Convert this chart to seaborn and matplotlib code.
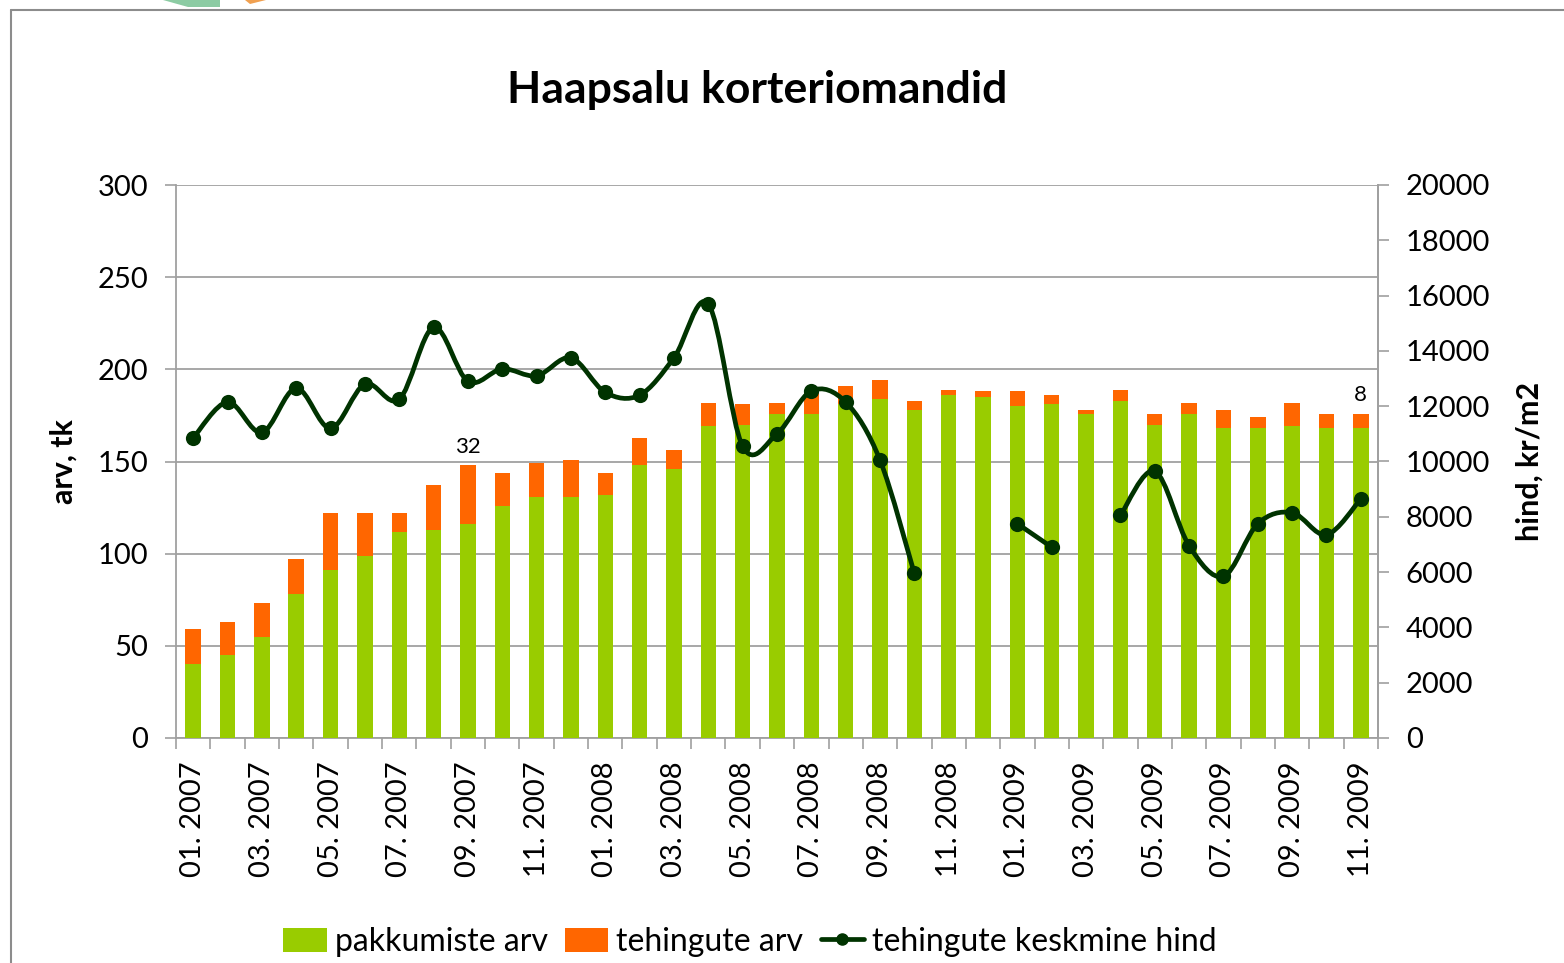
import numpy as np
import pandas as pd
import matplotlib
matplotlib.use("Agg")
import matplotlib.pyplot as plt
import seaborn as sns
from matplotlib.path import Path
from matplotlib.patches import PathPatch, Patch, Polygon
from matplotlib.lines import Line2D

# andmed (loetud graafikult)
months = [
    "01. 2007", "02. 2007", "03. 2007", "04. 2007", "05. 2007", "06. 2007",
    "07. 2007", "08. 2007", "09. 2007", "10. 2007", "11. 2007", "12. 2007",
    "01. 2008", "02. 2008", "03. 2008", "04. 2008", "05. 2008", "06. 2008",
    "07. 2008", "08. 2008", "09. 2008", "10. 2008", "11. 2008", "12. 2008",
    "01. 2009", "02. 2009", "03. 2009", "04. 2009", "05. 2009", "06. 2009",
    "07. 2009", "08. 2009", "09. 2009", "10. 2009", "11. 2009",
]
pakkumised = [40, 45, 55, 78, 91, 99, 112, 113, 116, 126, 131, 131,
              132, 148, 146, 169, 170, 176, 176, 181, 184, 178, 186, 185,
              180, 181, 176, 183, 170, 176, 168, 168, 169, 168, 168]
tehingud = [19, 18, 18, 19, 31, 23, 10, 24, 32, 18, 18, 20,
            12, 15, 10, 13, 11, 6, 11, 10, 10, 5, 3, 3,
            8, 5, 2, 6, 6, 6, 10, 6, 13, 8, 8]
hind = [10850, 12150, 11050, 12650, 11200, 12800, 12250, 14850, 12900, 13350, 13100, 13750,
        12500, 12400, 13750, 15700, 10550, 11000, 12550, 12150, 10050, 5950, np.nan, np.nan,
        7750, 6900, np.nan, 8050, 9650, 6950, 5850, 7750, 8150, 7350, 8650]
labelled = {"09. 2007": 32, "11. 2009": 8}

GREEN = "#99CC00"
ORANGE = "#FF6600"
LINE = "#003300"
GRAY = "#A0A0A0"

sns.set_theme(style="white")
plt.rcParams["font.family"] = ["Lato", "DejaVu Sans"]
plt.rcParams["text.color"] = "black"
plt.rcParams["axes.labelcolor"] = "black"

df = pd.DataFrame({"kuu": months, "pakkumised": pakkumised, "tehingud": tehingud, "hind": hind})
df["kokku"] = df["pakkumised"] + df["tehingud"]

fig = plt.figure(figsize=(15.64, 9.63), dpi=100)
W, H = 1564, 963
ax = fig.add_axes([176 / W, 1 - 738 / H, (1378 - 176) / W, (738 - 185) / H])

# virnastatud tulbad
sns.barplot(data=df, x="kuu", y="kokku", color=ORANGE, saturation=1, width=0.45,
            linewidth=0, ax=ax, zorder=2)
sns.barplot(data=df, x="kuu", y="pakkumised", color=GREEN, saturation=1, width=0.45,
            linewidth=0, ax=ax, zorder=3)

n = len(months)
ax.set_xlim(-0.5, n - 0.5)
ax.set_ylim(0, 300)
ax.set_yticks(np.arange(0, 301, 50))
ax.yaxis.grid(True, color=GRAY, lw=1.3)
ax.set_axisbelow(True)

ax.set_xticks(np.arange(0, n, 2))
ax.set_xticklabels(months[::2], rotation=90)
ax.set_xticks(np.arange(-0.5, n, 1), minor=True)
ax.tick_params(axis="x", which="major", length=0, pad=17, labelsize=21, labelcolor="black")
ax.tick_params(axis="x", which="minor", length=8, width=1.2, color=GRAY, direction="out", bottom=True)
ax.tick_params(axis="y", length=8, width=1.2, color=GRAY, direction="out", left=True, pad=12,
               labelsize=21, labelcolor="black")
ax.set_xlabel("")
ax.set_ylabel("arv, tk", fontsize=22, fontweight="bold", va="center")
ax.yaxis.set_label_coords((64 - 176) / 1202, 0.5)

ax.spines["top"].set_visible(False)
for s in ["left", "bottom", "right"]:
    ax.spines[s].set_color(GRAY)
    ax.spines[s].set_linewidth(1.3)

# andmesildid
for i, k in enumerate(months):
    if k in labelled:
        ax.annotate(str(labelled[k]), (i, df["kokku"][i]), xytext=(0, 6),
                    textcoords="offset points", ha="center", va="bottom", fontsize=16)

# hinna joon parempoolsel teljel
ax2 = ax.twinx()
ax2.set_ylim(0, 20000)
ax2.set_yticks(np.arange(0, 20001, 2000))
ax2.tick_params(axis="y", length=8, width=1.2, color=GRAY, direction="out", right=True, pad=12,
                labelsize=21, labelcolor="black")
for s in ["left", "top", "bottom"]:
    ax2.spines[s].set_visible(False)
ax2.spines["right"].set_color(GRAY)
ax2.spines["right"].set_linewidth(1.3)
ax2.grid(False)

# silutud joon (Exceli stiilis Bezier), katkeb puuduvate väärtuste kohal
x = np.arange(n, dtype=float)
y = df["hind"].to_numpy()
ok = ~np.isnan(y)
segments = []
cur = []
for i in range(n):
    if ok[i]:
        cur.append(i)
    elif cur:
        segments.append(cur)
        cur = []
if cur:
    segments.append(cur)

for seg in segments:
    if len(seg) < 2:
        continue
    px = x[seg]
    py = y[seg]
    verts = [(px[0], py[0])]
    codes = [Path.MOVETO]
    m = len(seg)
    for j in range(m - 1):
        p0 = np.array([px[max(j - 1, 0)], py[max(j - 1, 0)]])
        p1 = np.array([px[j], py[j]])
        p2 = np.array([px[j + 1], py[j + 1]])
        p3 = np.array([px[min(j + 2, m - 1)], py[min(j + 2, m - 1)]])
        c1 = p1 + (p2 - p0) / 6
        c2 = p2 - (p3 - p1) / 6
        verts += [tuple(c1), tuple(c2), tuple(p2)]
        codes += [Path.CURVE4] * 3
    ax2.add_patch(PathPatch(Path(verts, codes), fill=False, edgecolor=LINE, lw=3.4,
                            capstyle="round", joinstyle="round", zorder=4))

sns.scatterplot(data=df.dropna(subset=["hind"]).reset_index(), x="index", y="hind", ax=ax2,
                color=LINE, s=120, edgecolor=LINE, linewidth=0, zorder=5, legend=False)
ax2.set_xlabel("")
ax2.set_ylabel("hind, kr/m2", fontsize=22, fontweight="bold", va="center")
ax2.yaxis.set_label_coords((1530 - 176) / 1202, 0.5)
ax2.set_xlim(-0.5, n - 0.5)

# pealkiri
fig.text(757 / W, 1 - 90 / H, "Haapsalu korteriomandid", ha="center", va="center",
         fontsize=32, fontweight="bold")

# legend
handles = [
    Patch(facecolor=GREEN, edgecolor="none"),
    Patch(facecolor=ORANGE, edgecolor="none"),
    Line2D([], [], color=LINE, lw=3.4, marker="o", markersize=8),
]
fig.legend(handles, ["pakkumiste arv", "tehingute arv", "tehingute keskmine hind"],
           loc="center", bbox_to_anchor=(750 / W, 1 - 942 / H), ncol=3, frameon=False,
           fontsize=23, handlelength=1.35, handleheight=0.8, handletextpad=0.25,
           columnspacing=0.55, borderaxespad=0)

# välimine raam ja logo jääk
fig.add_artist(Line2D([11 / W, 11 / W], [0, 1 - 10 / H], color="#8C8C8C", lw=1.5))
fig.add_artist(Line2D([11 / W, 1], [1 - 10 / H, 1 - 10 / H], color="#8C8C8C", lw=1.5))
fig.add_artist(Polygon([(163 / W, 1), (220 / W, 1), (220 / W, 1 - 7 / H), (188 / W, 1 - 7 / H)],
                       closed=True, facecolor="#8CCBA3", edgecolor="none", transform=fig.transFigure))
fig.add_artist(Polygon([(245 / W, 1), (266 / W, 1), (250 / W, 1 - 4 / H)],
                       closed=True, facecolor="#F0A050", edgecolor="none", transform=fig.transFigure))

fig.savefig("out.png", dpi=100)
